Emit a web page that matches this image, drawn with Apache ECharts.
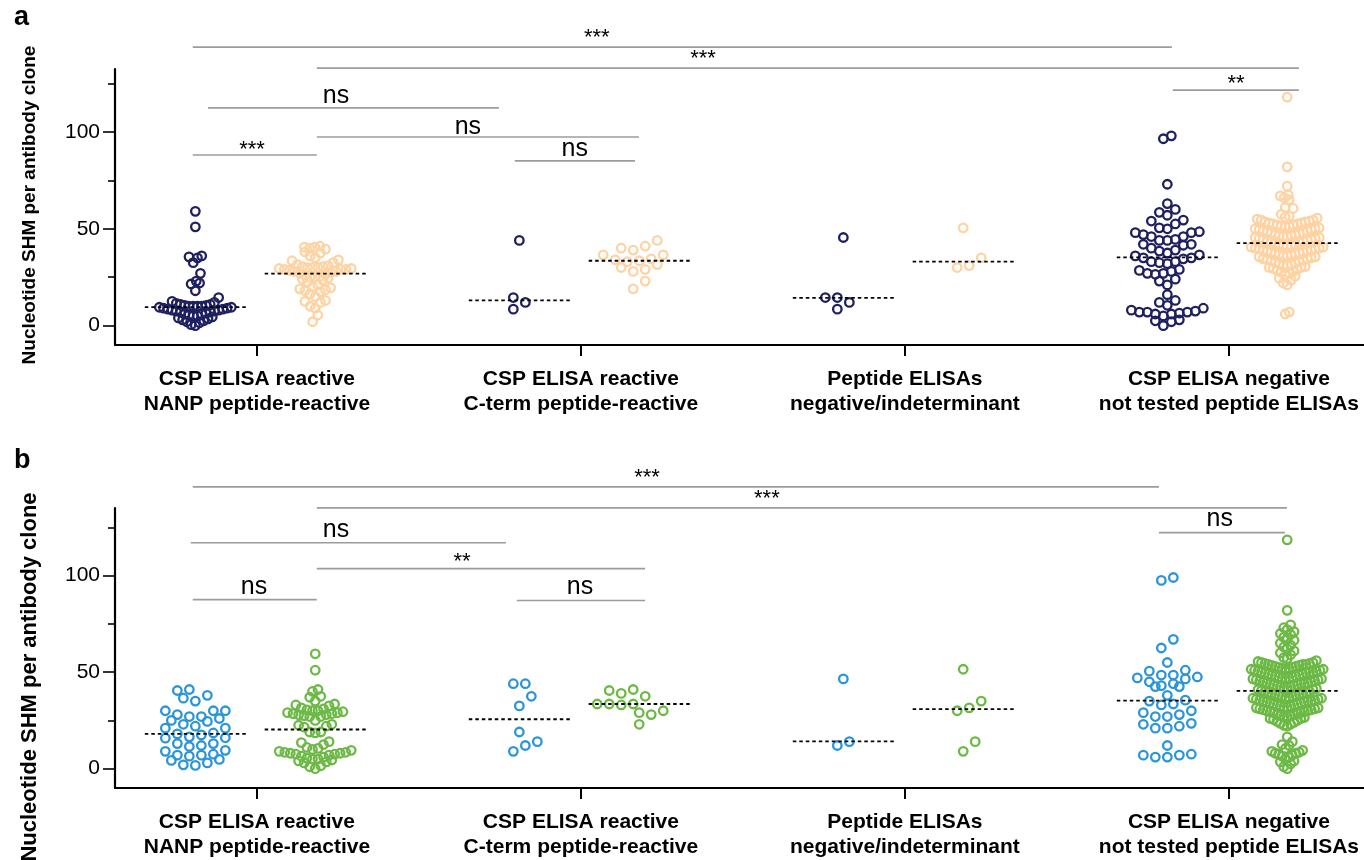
<!DOCTYPE html>
<html>
<head>
<meta charset="utf-8">
<script src="https://cdn.jsdelivr.net/npm/echarts@6.0.0/dist/echarts.min.js"></script>
<style>
html,body{margin:0;padding:0;background:#fff;}
#chart{width:1364px;height:860px;}
</style>
</head>
<body>
<div id="chart"></div>
<script>
// ---------------- DATA ----------------
const categories = [
  'CSP ELISA reactive\nNANP peptide-reactive',
  'CSP ELISA reactive\nC-term peptide-reactive',
  'Peptide ELISAs\nnegative/indeterminant',
  'CSP ELISA negative\nnot tested peptide ELISAs'
];
const yTickValues = [0, 25, 50, 75, 100, 125];
const yLabelValues = [0, 50, 100];
const yTitle = 'Nucleotide SHM per antibody clone';

// Panel a (navy / light orange)
const aNavy1 = [59, 51, 36, 35.5, 35, 32.5, 27, 23, 22, 21.5, 18, 14.5, 12.5, 12, 11.5, 11, 11, 10.5, 10.5, 10, 10, 10, 10, 9.5, 9.5,
  9, 9, 8.5, 8.5, 8, 8, 7.5, 7.5, 7, 7, 6.5, 6, 6, 5.5, 5, 5, 4.5, 4, 3.5, 3, 2.5, 2, 1.5, 0.5, 0];
const aOrange1 = [41, 40.5, 40.5, 40, 39.5, 38, 37.5, 36, 35, 34, 33.5, 32.5, 31.5, 31, 30.5, 30.5, 30, 30, 30, 29.5, 29.5, 29, 29, 29, 28.5, 28, 28, 27.5, 27,
  26.5, 26, 25.5, 25, 25, 24.5, 24, 23.5, 22.5, 21, 20, 19.5, 19, 18.5, 18, 17.5, 16.5, 15, 13, 12.5, 12, 10, 9, 5.5, 2];
const aNavy2 = [44, 14.5, 12, 8.5];
const aOrange2 = [44, 41, 40, 39, 36.5, 36.5, 34.5, 34, 33.5, 33, 31.5, 30, 29, 28, 23, 19];
const aNavy3 = [45.5, 14.5, 14.5, 12, 8.5];
const aOrange3 = [50.5, 35, 31, 30];
const aNavy4 = [98, 96.5, 73, 63, 60, 58.5, 57, 54.5, 54, 52.5, 50.5, 50, 48.5, 48, 48, 47, 46, 46, 44.5, 44, 44, 42, 42, 41.5, 40, 39, 38.5, 37.5, 36.5, 36,
  35, 35, 34.5, 33, 33, 32.5, 32, 29, 28.5, 28, 27, 27, 26.5, 24, 23, 21, 16, 13, 12, 10.5, 9, 8, 7.5, 7, 7, 7, 6.5, 6, 6, 5, 3, 2.5, 2, 0];
const aOrange4 = [118, 82, 72, 67.5, 67, 66, 65, 61, 60.5,
  57.5, 56.5, 56, 55.5, 55, 54.5, 54.5, 54, 53.5, 53.5, 53, 53,
  52.5, 52.5, 52, 52, 51.5, 51, 51, 50.5, 50, 50, 49.5, 49.5, 49, 49, 48.5, 48, 48, 47.5, 47, 47,
  46.5, 46.5, 46, 46, 45.5, 45.5, 45, 45, 44.5, 44.5, 44, 43.5, 43.5, 43, 43,
  42.5, 42, 42, 41.5, 41.5, 41, 40.5, 40.5, 40, 40, 39.5, 39.5, 39, 39, 38.5, 38.5, 38, 38,
  37.5, 37.5, 37, 37, 36.5, 36, 36, 35.5, 35.5, 35, 34.5, 34.5, 34, 33.5, 33.5, 33, 32.5, 32.5, 32,
  31.5, 31, 31, 30.5, 30, 30, 29.5, 29, 28.5, 28, 27.5, 27, 26, 25.5, 24.5, 23.5, 22, 21, 7, 6];
const aNavyMedian = [9.6, 13, 14.3, 35.2];
const aOrangeMedian = [26.8, 33.5, 33, 42.6];

// Panel b (blue / green)
const bBlue1 = [41, 40.5, 38, 36.5, 35, 30, 30, 30, 28, 27, 27, 26, 25, 24.5, 23, 22, 21, 21, 18.5, 18, 17.5, 16.5, 16, 15.8, 13, 13, 12, 11.5, 9.5, 9, 7.5,
  7, 7, 6.5, 4.8, 4.3, 3, 2, 1.7];
const bGreen1 = [59.5, 51, 41, 40, 37.5, 37, 35, 33.5, 33, 32.5, 31.5, 31, 30.5, 30, 30, 29.5, 29, 29, 28.5, 28.5, 28, 28, 27.5, 27, 27, 25, 23, 22.5, 22, 21.5,
  19, 19, 18.5, 14, 13.5, 12.5, 11, 10.5, 10, 9.5, 9, 8.5, 8.5, 8, 8, 7.5, 7.5, 7, 6.5, 6, 5.5, 5, 5, 4.5, 4, 3.5, 3, 1.5, 1, 0];
const bBlue2 = [44, 44, 37.5, 32.5, 19, 14, 12, 9];
const bGreen2 = [41, 40.5, 39, 37.5, 33.5, 33.5, 33.5, 33, 30, 29, 28, 23];
const bBlue3 = [46.5, 14, 12];
const bGreen3 = [51.5, 35, 31.5, 30, 14, 9];
const bBlue4 = [99, 97.5, 67, 62.5, 55, 51, 50.5, 48.5, 48.5, 47.5, 47, 46.5, 45, 44, 43, 42.5, 42.5, 38, 35.5, 35, 33.5, 33, 30, 29, 28, 27, 27, 23.5, 23, 22,
  21, 21, 12, 7.5, 7, 7, 6, 6];
const bGreen4 = [118.5, 82, 74.5, 73, 72, 71, 70, 69.5, 68, 67, 66.5, 65, 64, 63, 62, 61, 60, 59,
  57.5, 57, 56, 55.5, 55, 55,
  54.5, 54.5, 54, 54, 54, 53.5, 53.5, 53, 53, 52.5, 52.5, 52, 52, 52,
  51.5, 51.5, 51, 51, 50.5, 50.5, 50, 50, 50, 49.5, 49.5, 49, 49,
  48.5, 48.5, 48, 48, 47.5, 47.5, 47, 47, 47, 46.5, 46.5, 46, 46,
  45.5, 45.5, 45, 45, 44.5, 44.5, 44, 44, 44, 43.5, 43.5, 43, 43,
  42.5, 42.5, 42, 42, 41.5, 41, 41, 40.5,
  40, 40, 39.5, 39.5, 39, 39, 38.5, 38.5, 38, 38, 37.5, 37.5, 37, 37,
  36.5, 36.5, 36, 36, 35.5, 35.5, 35, 35, 35, 34.5, 34.5, 34, 34,
  33.5, 33.5, 33, 33, 32.5, 32.5, 32, 32, 31.5, 31.5, 31, 31,
  30.5, 30.5, 30, 30, 29.5, 29.5, 29, 29, 28.5, 28, 28,
  27.5, 27.5, 27, 27, 26.5, 26, 26, 25.5, 25, 24.5, 24, 23.5, 23, 22.5, 22,
  16.5, 14, 12.5, 12, 10.5, 9.5, 9, 8.5, 8, 8, 7.5, 7, 6.5, 6, 5, 4, 3.5, 2.5, 1, 0];
const bBlueMedian = [18, 25.6, 14.1, 35.2];
const bGreenMedian = [20.3, 33.5, 30.8, 40.3];

// Significance brackets: [x1, x2, y, label, labelX, labelY] in axis units
const bracketsA = [
  [-0.198, 2.824, 143.8, '***', 1.049, 151.0],
  [0.185, 3.216, 133.0, '***', 1.377, 140.2],
  [-0.151, 0.747, 112.4, 'ns', 0.244, 118.0],
  [0.185, 1.179, 97.4, 'ns', 0.651, 102.1],
  [-0.198, 0.185, 88.1, '***', -0.015, 93.3],
  [0.796, 1.167, 85.1, 'ns', 0.981, 90.7],
  [2.827, 3.216, 121.6, '**', 3.022, 127.3]
];
const bracketsB = [
  [-0.198, 2.784, 145.9, '***', 1.204, 153.1],
  [0.185, 3.179, 135.1, '***', 1.574, 142.3],
  [-0.204, 0.769, 117.0, 'ns', 0.244, 123.2],
  [0.185, 1.198, 103.6, '**', 0.633, 109.8],
  [-0.198, 0.185, 87.6, 'ns', -0.009, 93.3],
  [0.802, 1.198, 87.1, 'ns', 0.997, 93.3],
  [2.784, 3.173, 122.2, 'ns', 2.972, 128.9]
];

// ---------------- STYLE / LAYOUT ----------------
const FONT = '"Liberation Sans", Arial, Helvetica, sans-serif';
const panels = [
  { groups: [[aNavy1, aNavy2, aNavy3, aNavy4], [aOrange1, aOrange2, aOrange3, aOrange4]],
    medians: [aNavyMedian, aOrangeMedian], colors: ['#1e2060', '#fdd3a4'], brackets: bracketsA,
    top: 69, height: 276, yMax: 132.5, letter: 'a', letterY: 20, titleY: 205, titleSize: 19 },
  { groups: [[bBlue1, bBlue2, bBlue3, bBlue4], [bGreen1, bGreen2, bGreen3, bGreen4]],
    medians: [bBlueMedian, bGreenMedian], colors: ['#2b95d6', '#6cb946'], brackets: bracketsB,
    top: 508, height: 281, yMax: 135, letter: 'b', letterY: 463, titleY: 677, titleSize: 22 }
];
const subOffset = [-0.19, 0.18];   // sub-column offset from category tick (axis units)
const medianHalf = 0.156;
const X_MIN = -0.438, X_MAX = 3.417, Y_MIN = -10;

const chart = echarts.init(document.getElementById('chart'), null, { renderer: 'canvas' });

const grids = panels.map(p => ({ left: 115, right: 0, top: p.top, height: p.height }));
const xAxes = panels.map((p, i) => ({
  gridIndex: i, type: 'value', min: X_MIN, max: X_MAX,
  axisLine: { show: true, onZero: false, lineStyle: { color: '#000', width: 2.2 } },
  axisTick: { show: true, customValues: [0, 1, 2, 3], length: 11, lineStyle: { color: '#000', width: 2 } },
  axisLabel: { show: true, customValues: [0, 1, 2, 3], formatter: v => categories[Math.round(v)],
    color: '#000', fontFamily: FONT, fontWeight: 'bold', fontSize: 21, lineHeight: 25, margin: 22 },
  splitLine: { show: false }
}));
const yAxes = panels.map((p, i) => ({
  gridIndex: i, type: 'value', min: Y_MIN, max: p.yMax, position: 'left',
  axisLine: { show: true, onZero: false, lineStyle: { color: '#000', width: 2.2 } },
  axisTick: { show: true, customValues: yLabelValues, length: 12, lineStyle: { color: '#000', width: 1.6 } },
  axisLabel: { show: true, customValues: yLabelValues, color: '#000', fontFamily: FONT, fontSize: 21, margin: 15 },
  splitLine: { show: false }
})).concat(panels.map((p, i) => ({
  gridIndex: i, type: 'value', min: Y_MIN, max: p.yMax, position: 'left',
  axisLine: { show: false, onZero: false },
  axisTick: { show: true, customValues: yTickValues.filter(v => yLabelValues.indexOf(v) < 0), length: 7,
    lineStyle: { color: '#000', width: 1.6 } },
  axisLabel: { show: false }, splitLine: { show: false }
})));

const graphics = [];
panels.forEach(p => {
  graphics.push({ type: 'text', left: 14, top: p.letterY - 16, style: { text: p.letter, font: 'bold 27px ' + FONT, fill: '#000' } });
  graphics.push({ type: 'text', x: 30, y: p.titleY, rotation: Math.PI / 2,
    style: { text: yTitle, font: 'bold ' + p.titleSize + 'px ' + FONT, fill: '#000', textAlign: 'center', textVerticalAlign: 'middle' } });
});

chart.setOption({
  animation: false, backgroundColor: '#fff',
  grid: grids, xAxis: xAxes, yAxis: yAxes, graphic: graphics, series: []
});

// ---------------- scatter-dot layout (rows of points, column-wide spacing) ----------------
function rowLayout(vals, k, binH, maxHalf, dmax) {
  const order = vals.map((v, i) => i).sort((a, b) => vals[a] - vals[b]);
  const rows = [];
  let cur = null;
  for (const i of order) {
    const y = vals[i] * k;
    if (!cur || y - cur.y0 >= binH) { cur = { y0: y, idx: [] }; rows.push(cur); }
    cur.idx.push(i);
  }
  const maxN = Math.max.apply(null, rows.map(r => r.idx.length));
  const s = maxN > 1 ? Math.min(dmax, 2 * maxHalf / (maxN - 1)) : dmax;
  const h = Math.max(s, 6) / 2;
  const shifts = [0, h, -h, 2 * h, -2 * h, 3 * h, -3 * h];
  const out = new Array(vals.length);
  const placed = [];
  for (const r of rows) {
    const n = r.idx.length;
    const mid = (n - 1) / 2;
    const seq = Array.from({ length: n }, (_, j) => j).sort((a, b) => Math.abs(a - mid) - Math.abs(b - mid) || a - b);
    const slots = seq.map(j => (j - mid) * s);
    let bestShift = 0, bestScore = -Infinity;
    for (const sh of shifts) {
      if (Math.abs(sh) + mid * s > maxHalf + 6) continue;
      let m = Infinity;
      r.idx.forEach((i, t) => {
        const x = slots[t] + sh, y = vals[i] * k;
        for (const q of placed) {
          const dx = x - q.x, dy = y - q.y;
          if (Math.abs(dy) < dmax) m = Math.min(m, Math.sqrt(dx * dx + dy * dy));
        }
      });
      if (m >= Math.min(dmax, s) - 0.5) { bestShift = sh; bestScore = m; break; }
      if (m > bestScore + 0.5) { bestScore = m; bestShift = sh; }
    }
    r.idx.forEach((i, t) => {
      const x = slots[t] + bestShift;
      out[i] = x;
      placed.push({ x: x, y: vals[i] * k });
    });
  }
  return out;
}

const series = [];
panels.forEach((p, pi) => {
  const o = chart.convertToPixel({ gridIndex: pi }, [0, 0]);
  const u = chart.convertToPixel({ gridIndex: pi }, [1, 100]);
  const pxPerX = u[0] - o[0];
  const pxPerY = (o[1] - u[1]) / 100;
  p.groups.forEach((sub, si) => {
    sub.forEach((vals, gi) => {
      const cx = gi + subOffset[si];
      const offs = rowLayout(vals, pxPerY, 9, 36, 12);
      series.push({
        type: 'scatter', xAxisIndex: pi, yAxisIndex: pi, z: 3,
        symbol: 'circle', symbolSize: 8.5,
        itemStyle: { color: 'rgba(255,255,255,0)', borderColor: p.colors[si], borderWidth: 2.3, opacity: 1 },
        emphasis: { disabled: true },
        data: vals.map((v, i) => [cx + offs[i] / pxPerX, v])
      });
    });
  });
  // medians
  const medData = [];
  p.medians.forEach((arr, si) => arr.forEach((m, gi) => medData.push([gi + subOffset[si], m])));
  series.push({
    type: 'custom', xAxisIndex: pi, yAxisIndex: pi, z: 5, silent: true,
    data: medData,
    renderItem: (params, api) => {
      const a = api.coord([api.value(0) - medianHalf, api.value(1)]);
      const b = api.coord([api.value(0) + medianHalf, api.value(1)]);
      return { type: 'line', shape: { x1: a[0], y1: a[1], x2: b[0], y2: b[1] },
        style: { stroke: '#000', lineWidth: 1.8, lineDash: [3.5, 3] } };
    }
  });
  // brackets
  const br = p.brackets;
  series.push({
    type: 'custom', xAxisIndex: pi, yAxisIndex: pi, z: 4, silent: true, clip: false,
    data: br.map(b => [b[0], b[2], b[1], b[4], b[5]]),
    renderItem: (params, api) => {
      const b = br[params.dataIndex];
      const p1 = api.coord([b[0], b[2]]), p2 = api.coord([b[1], b[2]]), t = api.coord([b[4], b[5]]);
      const star = b[3].indexOf('*') >= 0;
      return { type: 'group', children: [
        { type: 'line', shape: { x1: p1[0], y1: p1[1], x2: p2[0], y2: p2[1] },
          style: { stroke: '#9c9c9c', lineWidth: 1.7 } },
        { type: 'text', x: t[0], y: t[1] + (star ? 5 : -1),
          style: { text: b[3], font: (star ? '22px ' : '25px ') + FONT, fill: '#000',
            textAlign: 'center', textVerticalAlign: 'middle' } }
      ] };
    }
  });
});

chart.setOption({ series: series });
</script>
</body>
</html>
